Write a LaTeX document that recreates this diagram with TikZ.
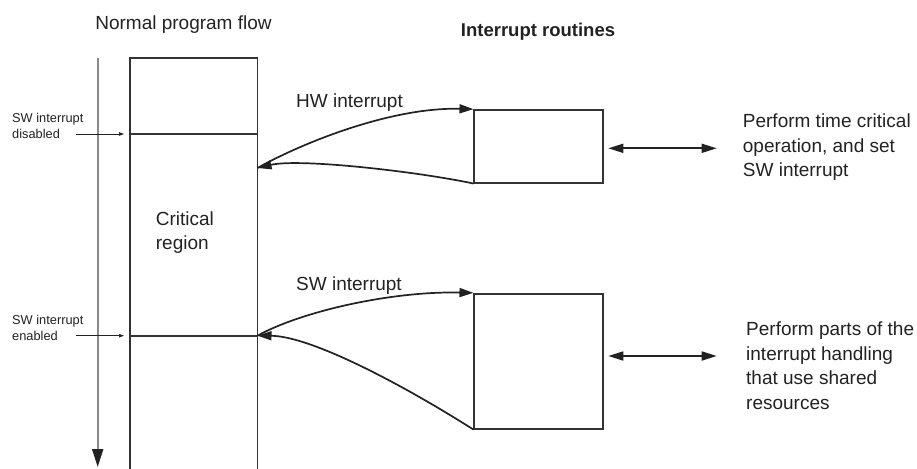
\documentclass[tikz,border=0pt]{standalone}
\usepackage{fontspec}
\setmainfont{Liberation Sans}
\usetikzlibrary{arrows.meta}
\definecolor{ink}{HTML}{222222}
\definecolor{lineg}{HTML}{333333}
\definecolor{flowg}{HTML}{8A8A8A}
\begin{document}
\begin{tikzpicture}[x=1pt,y=-1pt,
  big/.style={font=\fontsize{19}{24.5}\selectfont, text=ink, inner sep=0pt},
  small/.style={font=\fontsize{12.8}{16}\selectfont, text=ink, inner sep=0pt, align=left},
  box/.style={draw=lineg, line width=1.7pt, minimum width=128.4pt, inner sep=0pt},
  conn/.style={draw=ink, line width=1.7pt, -{Triangle[length=14pt,width=9pt]}},
  dbl/.style={draw=ink, line width=1.7pt, {Triangle[length=15pt,width=9pt]}-{Triangle[length=15pt,width=9pt]}},
  tiny/.style={draw=ink, line width=0.7pt, -{Triangle[length=5pt,width=3.5pt]}}]
\useasboundingbox (0,0) rectangle (917,468);
% titles
\node[big, anchor=base] (t1) at (183.5,30) {Normal program flow};
\node[big, anchor=base, font=\fontsize{18.5}{22}\selectfont\bfseries] (t2) at (538,36.7) {Interrupt routines};
% flow arrow
\coordinate (ftop) at (97.7,58);
\coordinate (fbot) at (97.7,467);
\draw[flowg, line width=2pt, -{Triangle[length=18pt,width=11pt,color=ink]}] (ftop) -- (fbot);
% main column
\node[box, minimum width=127.5pt, minimum height=420pt] (main) at (193.75,268) {};
\coordinate (d1l) at (130,134);
\coordinate (d1r) at (257.5,134);
\coordinate (d2l) at (130,335.7);
\coordinate (d2r) at (257.5,335.7);
\draw[lineg, line width=1.7pt] (d1l) -- (d1r);
\draw[lineg, line width=1.7pt] (d2l) -- (d2r);
\node[big, align=left, anchor=west] (crit) at (155.7,232.5) {Critical\\region};
% left labels
\node[small, anchor=west] (lab1) at (12,126.4) {SW interrupt\\disabled};
\node[small, anchor=west] (lab2) at (12,327.9) {SW interrupt\\enabled};
\coordinate (a1s) at (76,134);
\coordinate (a1e) at (124,134);
\coordinate (a2s) at (76,335.7);
\coordinate (a2e) at (124,335.7);
\draw[tiny] (a1s) -- (a1e);
\draw[tiny] (a2s) -- (a2e);
% routine boxes
\node[box, minimum height=72.7pt] (hw) at (538.5,146.35) {};
\node[box, minimum height=135pt] (sw) at (538.5,361.2) {};
% curves
\coordinate (hwa) at (257.5,168);
\coordinate (swa) at (257.5,335.7);
\draw[conn] (hwa) .. controls (300,144) and (390,107) .. (hw.north west);
\draw[conn] (hw.south west) .. controls (420,172) and (300,158) .. (hwa);
\draw[conn] (swa) .. controls (300,312) and (390,291) .. (sw.north west);
\draw[conn] (sw.south west) .. controls (400,383) and (310,336) .. (swa);
\node[big, anchor=base west] (hwl) at (296,107) {HW interrupt};
\node[big, anchor=base west] (swl) at (296,290) {SW interrupt};
% double arrows
\coordinate (b1s) at (608.3,148.3);
\coordinate (b1e) at (716.7,148.3);
\coordinate (b2s) at (608.3,356);
\coordinate (b2e) at (716.7,356);
\draw[dbl] (b1s) -- (b1e);
\draw[dbl] (b2s) -- (b2e);
% descriptions
\node[big, align=left, anchor=west] (desc1) at (742.7,147.5) {Perform time critical\\operation, and set\\SW interrupt};
\node[big, align=left, anchor=west] (desc2) at (746,365.5) {Perform parts of the\\interrupt handling\\that use shared\\resources};
\end{tikzpicture}
\end{document}
